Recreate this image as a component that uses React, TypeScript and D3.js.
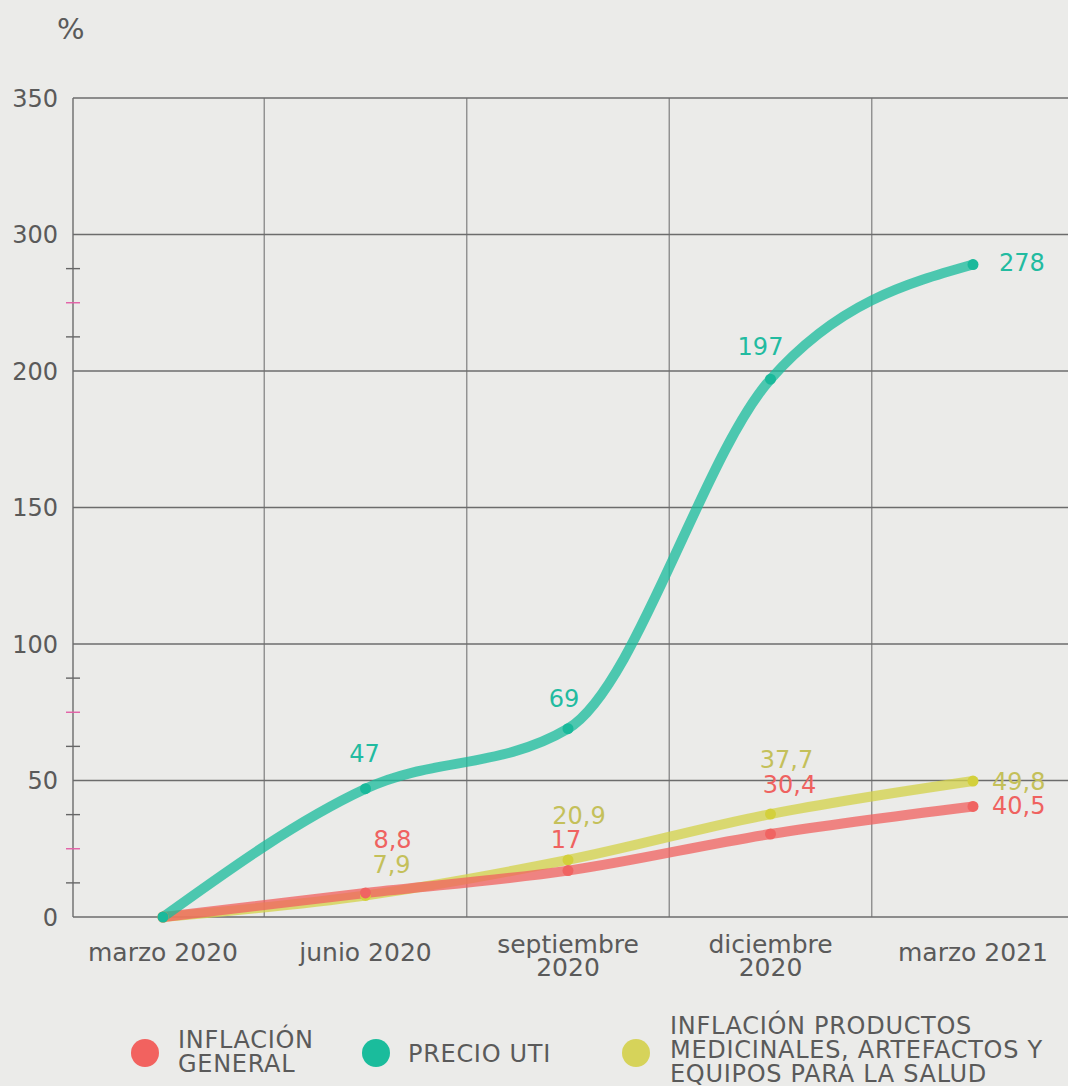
import React from "react";
import * as d3 from "d3";

// Periods on the x axis (line breaks marked with "\n")
const categories = ["marzo 2020", "junio 2020", "septiembre\n2020", "diciembre\n2020", "marzo 2021"];

// Cumulative variation, %
const inflacionGeneral = [0, 8.8, 17, 30.4, 40.5];
const precioUti = [0, 47, 69, 197, 278];
const inflacionMedicinales = [0, 7.9, 20.9, 37.7, 49.8];

// Y axis gridline values (the axis skips 250)
const yTicks = [0, 50, 100, 150, 200, 300, 350];
const yMinorTicks = [12.5, 25, 37.5, 62.5, 75, 87.5, 225, 250, 275];
const yHighlightTicks = [25, 75, 250];

const legendLabels = [
  ["INFLACIÓN", "GENERAL"],
  ["PRECIO UTI"],
  ["INFLACIÓN PRODUCTOS", "MEDICINALES, ARTEFACTOS Y", "EQUIPOS PARA LA SALUD"],
];

const formatValue = (v: number) => String(v).replace(".", ",");

const W = 1068;
const H = 1086;
const FONT = "'DejaVu Sans', sans-serif";
const FS = 24;
const TEXT = "#5a5a5a";

const plot = { left: 73, right: W, top: 98, bottom: 917 };

type Series = {
  values: number[];
  line: string;
  dot: string;
  label: string;
  // label placement relative to each point: [dx, dy, anchor]
  offsets: ([number, number, string] | null)[];
};

const series: Series[] = [
  {
    values: inflacionMedicinales,
    line: "#d4d24a",
    dot: "#d3d03c",
    label: "#c4c05a",
    offsets: [null, [26, -31, "middle"], [11, -45, "middle"], [16, -55, "middle"], [19, 0, "start"]],
  },
  {
    values: inflacionGeneral,
    line: "#f06260",
    dot: "#f06462",
    label: "#ef6260",
    offsets: [null, [27, -54, "middle"], [-2, -31, "middle"], [19, -50, "middle"], [19, -1, "start"]],
  },
  {
    values: precioUti,
    line: "#1abc9c",
    dot: "#1ab99b",
    label: "#22bba0",
    offsets: [null, [-1, -35, "middle"], [-4, -30, "middle"], [-10, -33, "middle"], [26, -2, "start"]],
  },
];

const legendColors = ["#f2625f", "#1abc9c", "#d6d35a"];

export default function App() {
  const x = d3.scalePoint<string>().domain(categories).range([163, 973]);
  const step = x.step();

  const y = d3
    .scaleLinear()
    .domain(yTicks)
    .range(yTicks.map((_, i) => plot.bottom - (i * (plot.bottom - plot.top)) / (yTicks.length - 1)));

  const line = d3
    .line<number>()
    .x((_, i) => x(categories[i]) as number)
    .y((d) => y(d))
    .curve(d3.curveMonotoneX);

  const vGrid = categories.slice(1).map((c) => (x(c) as number) - step / 2);

  return (
    <svg
      width={W}
      height={H}
      style={{ position: "absolute", left: 0, top: 0, background: "#ebebe9", display: "block" }}
      fontFamily={FONT}
    >
      <rect width={W} height={H} fill="#ebebe9" />

      <text x={57} y={39} fontSize={29} fill={TEXT}>
        %
      </text>

      {/* vertical gridlines */}
      {vGrid.map((gx, i) => (
        <line key={"v" + i} x1={gx} x2={gx} y1={plot.top} y2={plot.bottom} stroke="#8e8e8e" strokeWidth={1.4} />
      ))}

      {/* horizontal gridlines and labels */}
      {yTicks.map((t) => (
        <g key={"h" + t}>
          <line x1={plot.left} x2={plot.right} y1={y(t)} y2={y(t)} stroke="#6c6c6c" strokeWidth={1.4} />
          <text x={58} y={y(t) + 8.6} textAnchor="end" fontSize={FS} fill={TEXT}>
            {t}
          </text>
        </g>
      ))}

      {/* y axis with minor ticks */}
      <line x1={plot.left} x2={plot.left} y1={plot.top} y2={plot.bottom} stroke="#6c6c6c" strokeWidth={1.4} />
      {yMinorTicks.map((t) => (
        <line
          key={"m" + t}
          x1={66}
          x2={80}
          y1={y(t)}
          y2={y(t)}
          stroke={yHighlightTicks.includes(t) ? "#e35ea6" : "#666"}
          strokeWidth={1.4}
        />
      ))}

      {/* x axis labels */}
      {categories.map((c) => {
        const lines = c.split("\n");
        const base = lines.length === 1 ? 961 : 953;
        return (
          <text key={c} x={x(c)} textAnchor="middle" fontSize={25} fill={TEXT}>
            {lines.map((l, i) => (
              <tspan key={i} x={x(c)} y={base + i * 23}>
                {l}
              </tspan>
            ))}
          </text>
        );
      })}

      {/* series lines */}
      {series.map((s, si) => (
        <path
          key={"l" + si}
          d={line(s.values) ?? ""}
          fill="none"
          stroke={s.line}
          strokeOpacity={0.76}
          strokeWidth={10}
          strokeLinecap="round"
        />
      ))}

      {/* points */}
      {series.map((s, si) =>
        s.values.map((v, i) => (
          <circle key={"p" + si + "-" + i} cx={x(categories[i])} cy={y(v)} r={5.5} fill={s.dot} />
        ))
      )}

      {/* value labels */}
      {series.map((s, si) =>
        s.values.map((v, i) => {
          const o = s.offsets[i];
          if (!o) return null;
          return (
            <text
              key={"t" + si + "-" + i}
              x={(x(categories[i]) as number) + o[0]}
              y={y(v) + o[1] + 8.6}
              textAnchor={o[2] as any}
              fontSize={FS}
              fill={s.label}
            >
              {formatValue(v)}
            </text>
          );
        })
      )}

      {/* legend */}
      {legendLabels.map((lab, i) => {
        const cx = [145, 376, 636][i];
        const tx = [178, 408, 670][i];
        const firstBase = [1048, 1062, 1034][i];
        return (
          <g key={"lg" + i}>
            <circle cx={cx} cy={1053} r={14} fill={legendColors[i]} />
            <text fontSize={24} fill={TEXT} letterSpacing={0.7}>
              {lab.map((l, j) => (
                <tspan key={j} x={tx} y={firstBase + j * 24}>
                  {l}
                </tspan>
              ))}
            </text>
          </g>
        );
      })}
    </svg>
  );
}
